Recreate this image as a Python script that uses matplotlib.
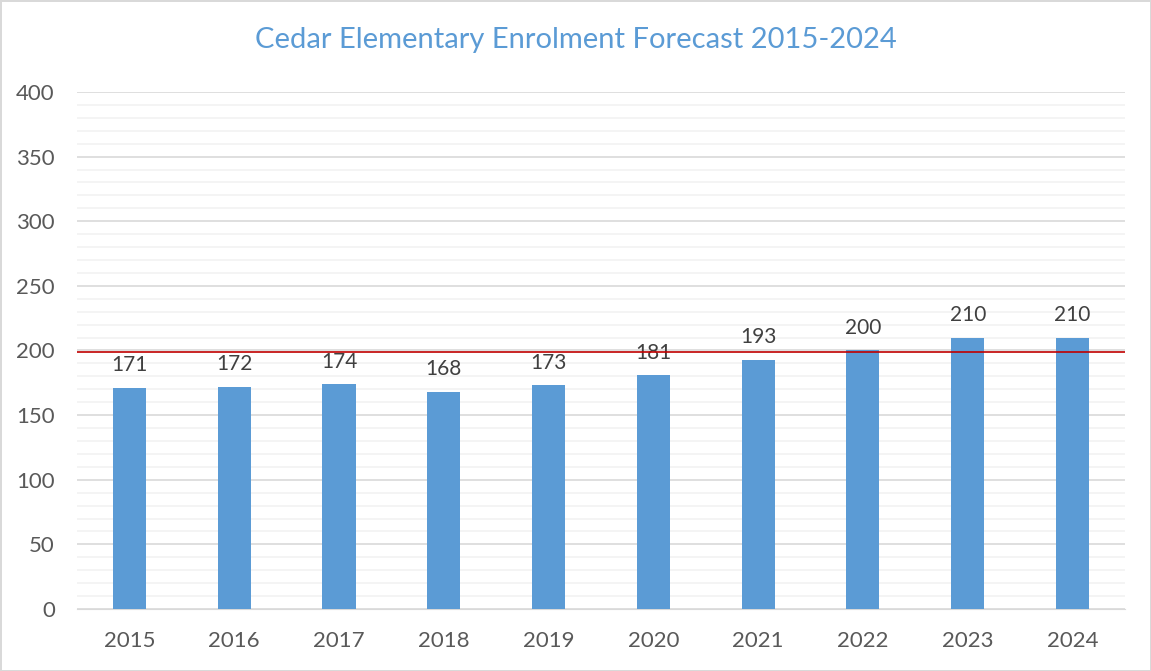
import matplotlib
matplotlib.use('Agg')
import matplotlib.pyplot as plt
import numpy as np

years = ['2015', '2016', '2017', '2018', '2019', '2020', '2021', '2022', '2023', '2024']
enrolment = [171, 172, 174, 168, 173, 181, 193, 200, 210, 210]
capacity = 199

plt.rcParams['font.family'] = ['Lato', 'DejaVu Sans']

fig = plt.figure(figsize=(11.51, 6.71), dpi=100)
fig.patch.set_edgecolor('#D9D9D9')
fig.patch.set_linewidth(2)
ax = fig.add_axes([0.0669, 0.0924, 0.9105, 0.7705])

x = np.arange(len(years))
ax.bar(x, enrolment, width=0.315, color='#5B9BD5', zorder=3)
ax.axhline(capacity, color='#C00000', linewidth=1.2, zorder=4)

for xi, v in zip(x, enrolment):
    ax.annotate(str(v), (xi, v), xytext=(0, 9), textcoords='offset points',
                ha='center', va='bottom', fontsize=15, color='#404040')

ax.set_xlim(-0.5, len(years) - 0.5)
ax.set_ylim(0, 400)
ax.set_yticks(np.arange(0, 401, 50))
ax.set_yticks(np.arange(0, 401, 10), minor=True)
ax.set_xticks(x)
ax.set_xticklabels(years)
ax.grid(axis='y', which='major', color='#D9D9D9', linewidth=1.2, zorder=0)
ax.grid(axis='y', which='minor', color='#F2F2F2', linewidth=1.2, zorder=0)
ax.tick_params(axis='both', which='both', length=0, labelsize=16, labelcolor='#595959')
ax.tick_params(axis='y', pad=16)
ax.tick_params(axis='x', pad=16)
for side in ['top', 'right', 'left']:
    ax.spines[side].set_visible(False)
ax.spines['bottom'].set_color('#D9D9D9')

fig.text(0.5, 0.94, 'Cedar Elementary Enrolment Forecast 2015-2024', ha='center', va='center',
         fontsize=21, color='#5B9BD5')

fig.savefig('out.png', dpi=100)
